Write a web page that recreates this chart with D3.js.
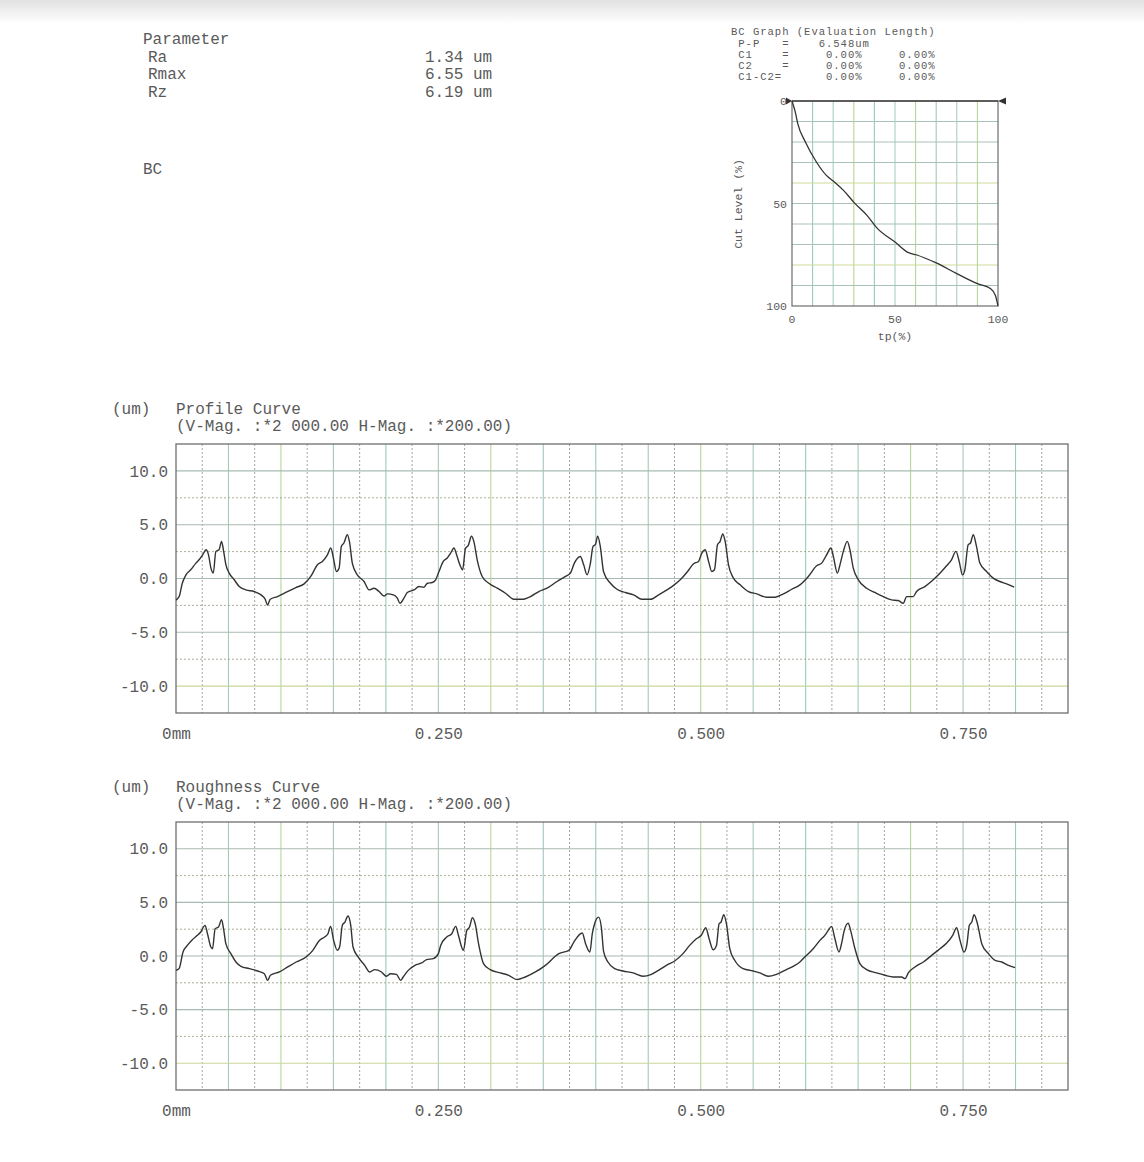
<!DOCTYPE html>
<html>
<head>
<meta charset="utf-8">
<script src="https://cdn.jsdelivr.net/npm/d3@7"></script>
<style>
  body { margin: 0; background: #fff; }
  svg text { font-family: "Liberation Mono", "Courier New", monospace; fill: #5a5a5a; }
</style>
</head>
<body>
<svg id="sheet" width="1144" height="1162"></svg>
<script>
// ---- measurement summary ----
const paramNames  = ["Ra", "Rmax", "Rz"];
const paramValues = ["1.34 um", "6.55 um", "6.19 um"];

const bcHeader = "BC Graph (Evaluation Length)";
const bcRows = [
  " P-P   =    6.548um",
  " C1    =     0.00%     0.00%",
  " C2    =     0.00%     0.00%",
  " C1-C2=      0.00%     0.00%"
];

// ---- bearing curve: tp (%) vs cut level (%) ----
const bcTp  = [0, 1.6, 2.8, 6.5, 12, 16.7, 20, 25, 30.4, 36.4, 41.3, 50, 56.6, 60.2, 70, 80, 90, 96.3, 98.7, 100];
const bcCut = [0, 5.4, 11, 20, 30, 36.3, 39, 43.6, 49.8, 55.8, 62, 68.8, 74, 75, 79, 84.2, 89.1, 91.5, 94.8, 100];
const bcTicks = [0, 50, 100];

// ---- profile curve (mm, um) ----
const profileMm = [0,0.003,0.006,0.0095,0.014,0.019,0.022,0.0254,0.0286,0.031,0.0333,0.0355,0.038,0.041,0.0434,0.0454,0.0476,0.0507,0.0555,0.0603,0.0666,0.0745,0.081,0.085,0.0872,0.0898,0.0967,0.1062,0.1142,0.1221,0.1284,0.1348,0.1395,0.1443,0.1475,0.15,0.1529,0.1554,0.1576,0.16,0.1633,0.1655,0.168,0.1728,0.1792,0.184,0.1887,0.1935,0.1982,0.2014,0.2071,0.2109,0.2134,0.2172,0.2204,0.2268,0.2315,0.2363,0.2395,0.2442,0.2474,0.2506,0.2547,0.2585,0.2617,0.2649,0.2674,0.2705,0.2731,0.2759,0.2784,0.2816,0.2838,0.287,0.2918,0.2981,0.3061,0.314,0.322,0.3298,0.3378,0.3457,0.3536,0.3631,0.3711,0.3758,0.3796,0.3853,0.3885,0.3917,0.3949,0.3974,0.3996,0.4018,0.4043,0.4075,0.414,0.4202,0.4282,0.4361,0.444,0.4519,0.4599,0.4678,0.4726,0.4805,0.4875,0.4932,0.4979,0.5011,0.5043,0.5075,0.5106,0.5131,0.516,0.5185,0.521,0.5233,0.5265,0.5312,0.5376,0.5455,0.5534,0.5629,0.5709,0.5788,0.5867,0.5946,0.6026,0.6105,0.6153,0.62,0.6241,0.6264,0.6302,0.6327,0.6359,0.6397,0.6422,0.6454,0.6502,0.6581,0.666,0.674,0.6819,0.6882,0.693,0.6962,0.7025,0.7057,0.7136,0.7216,0.7295,0.7343,0.739,0.7432,0.7463,0.7495,0.7517,0.7549,0.7571,0.7597,0.7628,0.766,0.7724,0.7787,0.785,0.7914,0.7987];
const profileUm = [-2.0,-1.68,-0.44,0.34,0.81,1.43,1.74,2.2,2.67,2.2,0.96,0.5,2.52,2.67,3.45,2.52,1.27,0.5,-0.12,-0.75,-1.06,-1.21,-1.52,-1.93,-2.46,-1.93,-1.68,-1.21,-0.84,-0.5,0.19,1.27,1.59,2.2,2.83,1.9,0.65,0.96,2.99,3.3,4.07,3.3,1.43,0.34,-0.28,-1.06,-0.9,-1.21,-1.62,-1.43,-1.52,-1.83,-2.3,-1.83,-1.3,-1.06,-0.75,-0.81,-0.44,-0.37,-0.12,0.65,1.59,1.9,2.36,2.83,2.2,1.27,0.81,2.83,3.05,3.92,3.45,1.74,0.19,-0.44,-0.9,-1.37,-1.93,-1.93,-1.68,-1.21,-0.9,-0.28,0.19,0.5,1.43,2.05,1.27,0.34,1.43,2.99,3.14,3.92,2.99,0.6,-0.44,-1.0,-1.3,-1.52,-1.93,-1.93,-1.52,-1.06,-0.75,-0.12,0.65,1.37,1.59,2.36,2.67,1.59,0.65,0.81,3.14,3.45,4.14,3.45,1.27,0.03,-0.59,-1.21,-1.43,-1.74,-1.74,-1.43,-1.0,-0.59,0.19,1.18,1.43,2.2,2.83,2.05,0.5,1.27,2.52,3.45,2.67,0.96,-0.12,-0.9,-1.3,-1.68,-1.99,-2.05,-2.3,-1.68,-1.68,-1.21,-0.75,-0.12,0.65,1.18,1.74,2.52,1.59,0.34,0.81,3.14,3.3,4.07,2.99,1.43,0.65,0.03,-0.28,-0.5,-0.81];

// ---- roughness curve (mm, um) ----
const roughMm = [0,0.0029,0.0067,0.0108,0.0156,0.0204,0.0236,0.0277,0.03,0.0332,0.0348,0.0373,0.0405,0.0434,0.0453,0.0475,0.0523,0.0571,0.0619,0.0698,0.0778,0.0842,0.0874,0.0899,0.0985,0.1065,0.1145,0.124,0.1304,0.1368,0.1416,0.1448,0.1473,0.1502,0.1537,0.1559,0.1585,0.161,0.1639,0.1665,0.1687,0.1735,0.1798,0.1846,0.1894,0.1958,0.2006,0.2044,0.2101,0.214,0.2165,0.2213,0.2277,0.2341,0.2388,0.2452,0.25,0.2522,0.258,0.2628,0.2666,0.2691,0.2739,0.2771,0.2797,0.2825,0.2851,0.2883,0.293,0.2994,0.309,0.317,0.3249,0.3329,0.3425,0.352,0.3648,0.3744,0.3791,0.3871,0.3903,0.3944,0.3967,0.3989,0.4027,0.4053,0.4075,0.4116,0.418,0.4259,0.4355,0.445,0.453,0.4609,0.4688,0.4752,0.4831,0.4895,0.4959,0.5006,0.5048,0.508,0.5118,0.515,0.5175,0.5194,0.522,0.5245,0.5277,0.5324,0.5404,0.5499,0.5563,0.5643,0.5722,0.5802,0.5881,0.5945,0.5992,0.6072,0.6136,0.6183,0.6215,0.6247,0.6279,0.6317,0.6342,0.6368,0.6406,0.6428,0.647,0.6517,0.6581,0.6676,0.6756,0.6835,0.6915,0.6947,0.6978,0.7042,0.7122,0.7201,0.728,0.7344,0.7401,0.7439,0.7471,0.7509,0.7535,0.756,0.7583,0.7605,0.7637,0.7678,0.7742,0.7805,0.7869,0.7933,0.7996];
const roughUm = [-1.34,-1.18,0.37,0.99,1.52,1.93,2.24,2.86,2.08,0.84,0.68,2.55,2.7,3.39,2.55,1.15,0.22,-0.56,-0.96,-1.18,-1.4,-1.65,-2.27,-1.8,-1.49,-1.02,-0.56,-0.09,0.53,1.46,1.77,2.08,2.76,1.46,0.53,0.84,2.86,3.17,3.73,2.86,0.84,-0.09,-0.87,-1.49,-1.27,-1.49,-1.89,-1.65,-1.71,-2.27,-1.96,-1.34,-0.87,-0.65,-0.34,-0.25,0.22,0.99,1.77,2.08,2.76,1.93,0.53,2.39,2.7,3.57,3.01,1.15,-0.71,-1.27,-1.58,-1.8,-2.2,-1.96,-1.49,-0.87,0.22,0.53,1.3,2.14,1.15,0.37,2.08,3.01,3.63,2.7,0.4,-0.56,-1.18,-1.4,-1.58,-1.89,-1.71,-1.27,-0.78,-0.47,0.22,0.99,1.61,1.93,2.64,1.61,0.59,0.99,3.01,3.17,3.85,3.01,0.68,-0.4,-1.18,-1.4,-1.58,-1.89,-1.71,-1.34,-0.96,-0.56,-0.09,0.68,1.46,1.93,2.39,2.76,1.61,0.37,1.15,2.39,3.07,2.39,0.68,-0.71,-1.27,-1.58,-1.8,-1.96,-1.96,-2.11,-1.58,-1.02,-0.56,0.06,0.68,1.21,1.93,2.64,1.46,0.37,0.99,2.86,3.17,3.85,3.01,1.15,0.22,-0.4,-0.56,-0.87,-1.09];

// ---- trace axes ----
const traceYTicks = [10, 5, 0, -5, -10];
const traceXTicks = [0, 0.25, 0.5, 0.75];
const traceXMax = 0.85;
const traceYMax = 12.5;
const magText = "(V-Mag. :*2 000.00 H-Mag. :*200.00)";

const svg = d3.select("#sheet");

// faint toner haze along the top edge of the sheet
const defs = svg.append("defs");
const haze = defs.append("linearGradient").attr("id", "haze").attr("x1", 0).attr("y1", 0).attr("x2", 0).attr("y2", 1);
haze.append("stop").attr("offset", 0).attr("stop-color", "#e2e2e2");
haze.append("stop").attr("offset", 1).attr("stop-color", "#ffffff");
svg.append("rect").attr("x", 0).attr("y", 0).attr("width", 1144).attr("height", 24).attr("fill", "url(#haze)");

// ---- text helper (monospaced, spaces preserved) ----
const txt = (x, y, s, size, anchor, spacing) => svg.append("text")
  .attr("x", x).attr("y", y).attr("font-size", size)
  .attr("text-anchor", anchor || "start")
  .attr("letter-spacing", spacing || null)
  .attr("xml:space", "preserve").style("white-space", "pre").text(s);

// ---- parameter block ----
txt(143, 44, "Parameter", 16);
paramNames.forEach((n, i) => {
  txt(148, 62 + i * 17.3, n, 16);
  txt(425, 62 + i * 17.3, paramValues[i], 16);
});
txt(143, 174, "BC", 16);

// ---- BC graph ----
txt(731, 35, bcHeader, 10.6, "start", 0.95);
bcRows.forEach((r, i) => txt(731, 47 + i * 11.1, r, 10.6, "start", 0.95));

const bx = d3.scaleLinear().domain([0, 100]).range([792, 998]);
const by = d3.scaleLinear().domain([0, 100]).range([101, 306]);
const bcG = svg.append("g");
const bcVColors = ["#9fcabe", "#a8cfc0", "#b9d39c"];
d3.range(10, 100, 10).forEach((v, i) => {
  bcG.append("line").attr("x1", bx(v)).attr("x2", bx(v)).attr("y1", by(0)).attr("y2", by(100))
    .attr("stroke", bcVColors[i % 3]).attr("stroke-width", 1.1);
  bcG.append("line").attr("x1", bx(0)).attr("x2", bx(100)).attr("y1", by(v)).attr("y2", by(v))
    .attr("stroke", (v === 40 || v === 80) ? "#cfd99a" : "#a9c2b6").attr("stroke-width", 1.1);
});
bcG.append("rect").attr("x", bx(0)).attr("y", by(0)).attr("width", bx(100) - bx(0)).attr("height", by(100) - by(0))
  .attr("fill", "none").attr("stroke", "#6d6d6d").attr("stroke-width", 1.2);
bcG.append("line").attr("x1", bx(0)).attr("x2", bx(100)).attr("y1", by(0)).attr("y2", by(0))
  .attr("stroke", "#444").attr("stroke-width", 1.5);
// cut-level markers at both ends of the top edge
bcG.append("path").attr("d", `M${bx(0) - 6},${by(0) - 3.5}L${bx(0)},${by(0)}L${bx(0) - 6},${by(0) + 3.5}Z`).attr("fill", "#333");
bcG.append("path").attr("d", `M${bx(100) + 8},${by(0) - 3.5}L${bx(100)},${by(0)}L${bx(100) + 8},${by(0) + 3.5}Z`).attr("fill", "#333");

bcG.append("path")
  .datum(bcTp.map((t, i) => [t, bcCut[i]]))
  .attr("d", d3.line().curve(d3.curveMonotoneX).x(d => bx(d[0])).y(d => by(d[1])))
  .attr("fill", "none").attr("stroke", "#333").attr("stroke-width", 1.3);

bcTicks.forEach(t => {
  txt(787, by(t) + 4, String(t), 11.5, "end");
  txt(bx(t), 323, String(t), 11.5, "middle");
});
txt(895, 340, "tp(%)", 11.5, "middle");
svg.append("text").attr("transform", "translate(742,204) rotate(-90)")
  .attr("text-anchor", "middle").attr("font-size", 11.5).text("Cut Level (%)");

// ---- trace panels ----
function tracePanel(top, bottom, title, mm, um) {
  const x = d3.scaleLinear().domain([0, traceXMax]).range([176, 1068]);
  const y = d3.scaleLinear().domain([-traceYMax, traceYMax]).range([bottom, top]);
  const g = svg.append("g");

  txt(112, top - 30, "(um)", 16);
  txt(176, top - 30, title, 16);
  txt(176, top - 13, magText, 16);

  // grid: solid every 0.05 mm / 5 um, dotted halfway between
  const vSolid = ["#9ccabd", "#a6c9b8", "#bcd59a", "#a4c6c4"];
  d3.range(1, Math.round(traceXMax / 0.025)).forEach(k => {
    const xv = k * 0.025;
    const solid = k % 2 === 0;
    g.append("line").attr("x1", x(xv)).attr("x2", x(xv)).attr("y1", top).attr("y2", bottom)
      .attr("stroke", solid ? vSolid[(k / 2) % 4] : "#9a9a9a")
      .attr("stroke-width", solid ? 1.1 : 0.9)
      .attr("stroke-dasharray", solid ? null : "2,2");
  });
  d3.range(-4, 5).forEach(k => {
    const yv = k * 2.5;
    const solid = k % 2 === 0;
    g.append("line").attr("x1", x(0)).attr("x2", x(traceXMax)).attr("y1", y(yv)).attr("y2", y(yv))
      .attr("stroke", solid ? (k === -4 ? "#c9d89a" : "#a8bbb0") : "#a3a38f")
      .attr("stroke-width", solid ? 1.1 : 0.9)
      .attr("stroke-dasharray", solid ? null : "2,2");
  });
  g.append("rect").attr("x", x(0)).attr("y", top).attr("width", x(traceXMax) - x(0)).attr("height", bottom - top)
    .attr("fill", "none").attr("stroke", "#6f6f6f").attr("stroke-width", 1.3);

  // axes (labels only)
  const ya = g.append("g").attr("transform", `translate(${x(0) - 8},0)`)
    .call(d3.axisLeft(y).tickValues(traceYTicks).tickSize(0).tickFormat(d => d.toFixed(1)));
  const xa = g.append("g").attr("transform", `translate(0,${bottom + 8})`)
    .call(d3.axisBottom(x).tickValues(traceXTicks).tickSize(0).tickFormat(d => d === 0 ? "0mm" : d.toFixed(3)));
  [ya, xa].forEach(a => {
    a.select(".domain").remove();
    a.selectAll("text").attr("font-size", 16).attr("font-family", null).style("fill", "#5a5a5a");
  });
  ya.selectAll("text").attr("x", 0);
  xa.selectAll("text").attr("dy", "0.95em");

  g.append("path")
    .datum(mm.map((m, i) => [m, um[i]]))
    .attr("d", d3.line().curve(d3.curveMonotoneX).x(d => x(d[0])).y(d => y(d[1])))
    .attr("fill", "none").attr("stroke", "#333").attr("stroke-width", 1.4)
    .attr("stroke-linejoin", "round");
}

tracePanel(444, 713, "Profile Curve", profileMm, profileUm);
tracePanel(822, 1090, "Roughness Curve", roughMm, roughUm);
</script>
</body>
</html>
